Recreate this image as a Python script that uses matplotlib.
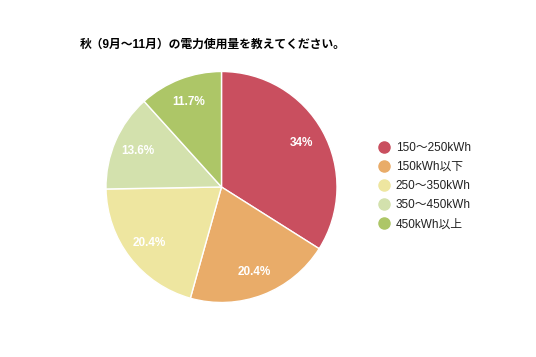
import matplotlib
matplotlib.use("Agg")
import numpy as np
from matplotlib import pyplot as plt
from matplotlib.lines import Line2D

plt.rcParams['font.family'] = ['Liberation Sans', 'Noto Sans CJK JP', 'DejaVu Sans']

# Data
title = "秋（9月〜11月）の電力使用量を教えてください。"
categories = ["150〜250kWh", "150kWh以下", "250〜350kWh", "350〜450kWh", "450kWh以上"]
values = [34, 20.4, 20.4, 13.6, 11.7]
pct_labels = ["34%", "20.4%", "20.4%", "13.6%", "11.7%"]
colors = ["#C94F5F", "#E9AC69", "#EEE6A0", "#D3E1AD", "#ADC667"]

W, H = 536, 357
fig = plt.figure(figsize=(W / 100, H / 100), dpi=100)
fig.patch.set_facecolor("white")
ax = fig.add_axes([0, 0, 1, 1])
ax.axis("off")

cx, cy, r = 221.5, H - 187, 115.5
wedges, _ = ax.pie(values, colors=colors, startangle=90, counterclock=False,
                   center=(cx, cy), radius=r,
                   wedgeprops=dict(edgecolor="white", linewidth=1))
ax.set_xlim(0, W)
ax.set_ylim(0, H)

# percentage labels inside the slices
for w, lab in zip(wedges, pct_labels):
    ang = np.deg2rad((w.theta1 + w.theta2) / 2)
    x = cx + 0.79 * r * np.cos(ang)
    y = cy + 0.79 * r * np.sin(ang)
    ax.text(x, y, lab, color="white", fontsize=8.5, fontweight="bold",
            ha="center", va="center")

fig.text(80 / W, 1 - 45 / H, title, fontsize=8.5, fontweight="bold",
         color="#000000", ha="left", va="center")

handles = [Line2D([], [], marker="o", linestyle="", markersize=8,
                  markerfacecolor=c, markeredgecolor=c) for c in colors]
fig.legend(handles, categories, loc="upper left",
           bbox_to_anchor=(378 / W, 1 - 142 / H), frameon=False,
           fontsize=8.5, labelcolor="#222222", handlelength=1.0,
           handletextpad=0.5, labelspacing=0.6, borderpad=0, borderaxespad=0)

fig.savefig("out.png", dpi=100, facecolor="white")
